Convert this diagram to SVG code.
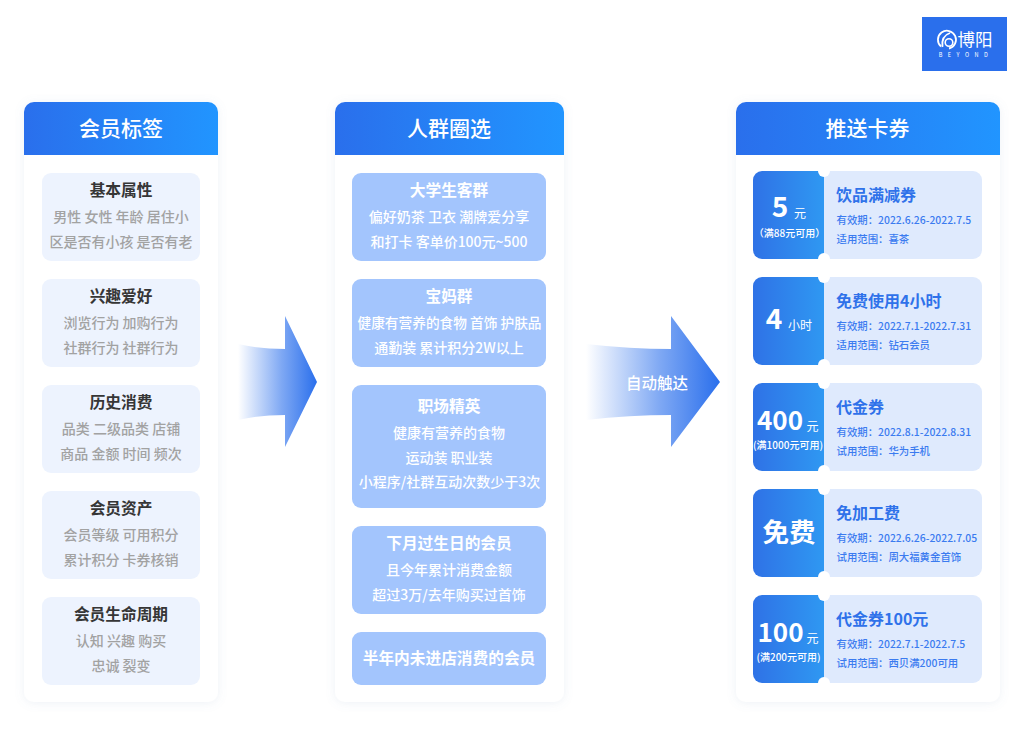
<svg xmlns="http://www.w3.org/2000/svg" width="1024" height="729" viewBox="0 0 1024 729">
<style>
text{font-family:"Noto Sans CJK SC","Noto Sans",sans-serif;text-anchor:middle}
.panel{fill:#fff;filter:url(#sh)}
.ht{font-size:21px;font-weight:500;fill:#fff}
.c1{fill:#edf3fe}
.c2{fill:#a3c5fd}
.c3{fill:#dfeafd}
.t1{font-size:15.700px;font-weight:700;fill:#363636}
.b1{font-size:14px;font-weight:500;fill:#a2a2a2}
.t2{font-size:15.700px;font-weight:700;fill:#fff}
.b2{font-size:14px;font-weight:500;fill:#fff}
.tl{fill:url(#tg)}
.nt{fill:#fff}
.ct{font-size:16px;font-weight:700;fill:#2f72ea;text-anchor:start}
.cb{font-size:10.400px;font-weight:500;fill:#3b7bf0;text-anchor:start}
.big{font-size:28px;font-weight:700;fill:#fff}
.big2{font-size:26px;font-weight:700;fill:#fff}
.unit{font-size:12px;fill:#fff;font-weight:400}
.cond{font-size:10px;fill:#fff;font-weight:500}
</style>
<defs>
<filter id="sh" x="-15%" y="-5%" width="130%" height="110%"><feDropShadow dx="0" dy="1" stdDeviation="5" flood-color="#7a93c0" flood-opacity="0.13"/></filter>
<linearGradient id="hg" x1="0" y1="0" x2="1" y2="0"><stop offset="0" stop-color="#2a6fec"/><stop offset="1" stop-color="#2195ff"/></linearGradient>
<linearGradient id="tg" x1="0" y1="0" x2="1" y2="0"><stop offset="0" stop-color="#2f72e6"/><stop offset="1" stop-color="#2f98f2"/></linearGradient>
<linearGradient id="ag" x1="0" y1="0" x2="1" y2="0"><stop offset="0" stop-color="#2a6fec" stop-opacity="0"/><stop offset="0.55" stop-color="#2a6fec" stop-opacity="0.6"/><stop offset="1" stop-color="#2a6fec"/></linearGradient>
</defs>

<g id="logo">
<rect x="922" y="17" width="85" height="54" fill="#2a6fec"/>
<path d="M941 46.500A9 9 0 1 1 949 48.500" fill="none" stroke="#fff" stroke-width="1.800"/>
<path d="M942.500 47C941.500 40 944 35 950 33" fill="none" stroke="#fff" stroke-width="1.800"/>
<circle cx="949" cy="42.500" r="3.800" fill="none" stroke="#fff" stroke-width="1.600"/>
<text x="975" y="45.500" fill="#fff" style="font-size:17.500px;font-weight:400">博阳</text>
<text x="966" y="57" fill="#fff" style="font-size:5.500px;letter-spacing:5.500px">BEYOND</text>
</g>

<g id="panel-tags">
<rect class="panel" x="24" y="102" width="194" height="600" rx="10"/>
<path d="M24 155V112a10 10 0 0 1 10-10H208a10 10 0 0 1 10 10V155Z" fill="url(#hg)"/>
<text class="ht" x="121" y="136">会员标签</text>
</g>
<g id="tag-1"><rect class="c1" x="42" y="173" width="158" height="88" rx="9"/><text class="t1" x="121" y="195.500">基本属性</text><text class="b1" x="121" y="222">男性 女性 年龄 居住小</text><text class="b1" x="121" y="247">区是否有小孩 是否有老</text></g>
<g id="tag-2"><rect class="c1" x="42" y="279" width="158" height="88" rx="9"/><text class="t1" x="121" y="301.500">兴趣爱好</text><text class="b1" x="121" y="328">浏览行为 加购行为</text><text class="b1" x="121" y="353">社群行为 社群行为</text></g>
<g id="tag-3"><rect class="c1" x="42" y="385" width="158" height="88" rx="9"/><text class="t1" x="121" y="407.500">历史消费</text><text class="b1" x="121" y="434">品类 二级品类 店铺</text><text class="b1" x="121" y="459">商品 金额 时间 频次</text></g>
<g id="tag-4"><rect class="c1" x="42" y="491" width="158" height="88" rx="9"/><text class="t1" x="121" y="513.500">会员资产</text><text class="b1" x="121" y="540">会员等级 可用积分</text><text class="b1" x="121" y="565">累计积分 卡券核销</text></g>
<g id="tag-5"><rect class="c1" x="42" y="597" width="158" height="88" rx="9"/><text class="t1" x="121" y="619.500">会员生命周期</text><text class="b1" x="121" y="646">认知 兴趣 购买</text><text class="b1" x="121" y="671">忠诚 裂变</text></g>

<g id="panel-crowd">
<rect class="panel" x="335" y="102" width="229" height="600" rx="10"/>
<path d="M335 155V112a10 10 0 0 1 10-10H554a10 10 0 0 1 10 10V155Z" fill="url(#hg)"/>
<text class="ht" x="449" y="136">人群圈选</text>
</g>
<g id="crowd-1"><rect class="c2" x="352" y="173" width="194" height="88" rx="9"/><text class="t2" x="449" y="195.500">大学生客群</text><text class="b2" x="449" y="222">偏好奶茶 卫衣 潮牌爱分享</text><text class="b2" x="449" y="247">和打卡 客单价100元~500</text></g>
<g id="crowd-2"><rect class="c2" x="352" y="279" width="194" height="88" rx="9"/><text class="t2" x="449" y="301.500">宝妈群</text><text class="b2" x="449.500" y="328" style="font-size:13.700px">健康有营养的食物 首饰 护肤品</text><text class="b2" x="449" y="353">通勤装 累计积分2W以上</text></g>
<g id="crowd-3"><rect class="c2" x="352" y="385" width="194" height="123" rx="9"/><text class="t2" x="449" y="411.500">职场精英</text><text class="b2" x="449" y="438">健康有营养的食物</text><text class="b2" x="449" y="463">运动装 职业装</text><text class="b2" x="449.500" y="487">小程序/社群互动次数少于3次</text></g>
<g id="crowd-4"><rect class="c2" x="352" y="526" width="194" height="88" rx="9"/><text class="t2" x="449" y="548.500">下月过生日的会员</text><text class="b2" x="449" y="575">且今年累计消费金额</text><text class="b2" x="449" y="600">超过3万/去年购买过首饰</text></g>
<g id="crowd-5"><rect class="c2" x="352" y="632" width="194" height="53" rx="9"/><text class="t2" x="449" y="663.500">半年内未进店消费的会员</text></g>

<g id="panel-coupons">
<rect class="panel" x="736" y="102" width="264" height="600" rx="10"/>
<path d="M736 155V112a10 10 0 0 1 10-10H990a10 10 0 0 1 10 10V155Z" fill="url(#hg)"/>
<text class="ht" x="867.500" y="136">推送卡券</text>
</g>

<g id="coupon-1"><rect class="c3" x="815" y="171" width="167" height="88" rx="9"/><path class="tl" d="M762 171H824V259H762a9 9 0 0 1-9-9V180a9 9 0 0 1 9-9Z"/><circle class="nt" cx="824" cy="171" r="6"/><circle class="nt" cx="824" cy="259" r="6"/>
<text class="big" x="780" y="217">5</text><text class="unit" x="800" y="218">元</text><text class="cond" x="789.500" y="237">（满88元可用）</text>
<text class="ct" x="836" y="201">饮品满减券</text><text class="cb" x="836.500" y="224">有效期：2022.6.26-2022.7.5</text><text class="cb" x="836.500" y="243">适用范围：喜茶</text></g>

<g id="coupon-2"><rect class="c3" x="815" y="277" width="167" height="88" rx="9"/><path class="tl" d="M762 277H824V365H762a9 9 0 0 1-9-9V286a9 9 0 0 1 9-9Z"/><circle class="nt" cx="824" cy="277" r="6"/><circle class="nt" cx="824" cy="365" r="6"/>
<text class="big" x="774" y="329">4</text><text class="unit" x="800" y="330">小时</text>
<text class="ct" x="836" y="307">免费使用4小时</text><text class="cb" x="836.500" y="330">有效期：2022.7.1-2022.7.31</text><text class="cb" x="836.500" y="349">适用范围：钻石会员</text></g>

<g id="coupon-3"><rect class="c3" x="815" y="383" width="167" height="88" rx="9"/><path class="tl" d="M762 383H824V471H762a9 9 0 0 1-9-9V392a9 9 0 0 1 9-9Z"/><circle class="nt" cx="824" cy="383" r="6"/><circle class="nt" cx="824" cy="471" r="6"/>
<text class="big2" x="780" y="430">400</text><text class="unit" x="812.500" y="431">元</text><text class="cond" x="788" y="449">(满1000元可用)</text>
<text class="ct" x="836" y="413">代金券</text><text class="cb" x="836.500" y="436">有效期：2022.8.1-2022.8.31</text><text class="cb" x="836.500" y="455">试用范围：华为手机</text></g>

<g id="coupon-4"><rect class="c3" x="815" y="489" width="167" height="88" rx="9"/><path class="tl" d="M762 489H824V577H762a9 9 0 0 1-9-9V498a9 9 0 0 1 9-9Z"/><circle class="nt" cx="824" cy="489" r="6"/><circle class="nt" cx="824" cy="577" r="6"/>
<text class="big" x="789" y="542" style="font-size:26.500px">免费</text>
<text class="ct" x="836" y="519">免加工费</text><text class="cb" x="836.500" y="542">有效期：2022.6.26-2022.7.05</text><text class="cb" x="836.500" y="561">试用范围：周大福黄金首饰</text></g>

<g id="coupon-5"><rect class="c3" x="815" y="595" width="167" height="88" rx="9"/><path class="tl" d="M762 595H824V683H762a9 9 0 0 1-9-9V604a9 9 0 0 1 9-9Z"/><circle class="nt" cx="824" cy="595" r="6"/><circle class="nt" cx="824" cy="683" r="6"/>
<text class="big2" x="780.500" y="642">100</text><text class="unit" x="812.500" y="643">元</text><text class="cond" x="788.500" y="661">(满200元可用)</text>
<text class="ct" x="836" y="625">代金券100元</text><text class="cb" x="836.500" y="648">有效期：2022.7.1-2022.7.5</text><text class="cb" x="836.500" y="667">试用范围：西贝满200可用</text></g>

<g id="connectors">
<path d="M238 344Q260 349 285 349V316L317 382L285 447V415Q260 415 238 420Z" fill="url(#ag)"/>
<path d="M586 344Q630 349 671 349V316L720 382L671 447V415Q630 415 586 420Z" fill="url(#ag)"/>
<text x="657" y="388.500" style="font-size:15.500px;font-weight:500;fill:#fff">自动触达</text>
</g>
</svg>
